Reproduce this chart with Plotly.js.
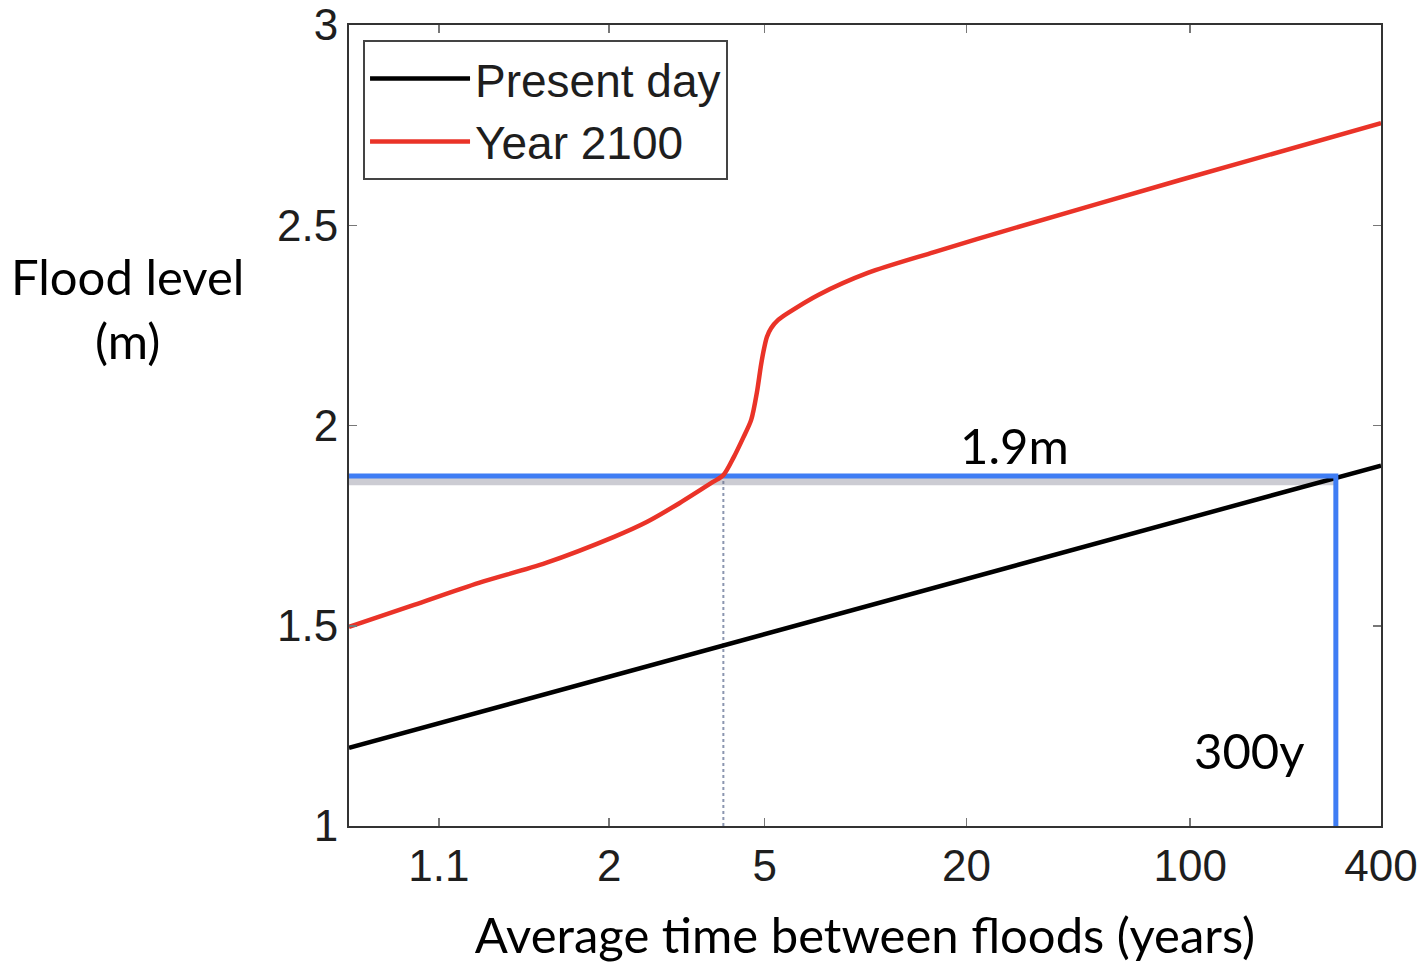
<!DOCTYPE html>
<html>
<head>
<meta charset="utf-8">
<script src="https://cdn.plot.ly/plotly-3.0.1.min.js"></script>
<style>html,body{margin:0;padding:0;background:#fff;}#chart{width:1424px;height:965px;}</style>
</head>
<body>
<div id="chart"></div>
<script>
// ---- data (return period in years -> flood level in m) ----
const seriesNames = ["Present day", "Year 2100"];
const presentT = [1.01, 2, 10, 100, 400];
const presentLevel = [1.195, 1.373, 1.549, 1.770, 1.900];
const futureT = [1.01, 1.06, 1.2, 1.5, 2.05, 2.44, 2.94, 3.6, 3.84, 4.1, 4.35, 4.58, 4.755, 4.88, 4.98, 5.07, 5.21, 5.45, 5.83, 7.13, 10, 15.9, 25.5, 93, 400];
const futureLevel = [1.497, 1.552, 1.607, 1.657, 1.722, 1.759, 1.806, 1.859, 1.876, 1.921, 1.969, 2.014, 2.084, 2.151, 2.193, 2.221, 2.243, 2.263, 2.281, 2.326, 2.381, 2.433, 2.483, 2.613, 2.755];
const xTickT = [1.1, 2, 5, 20, 100, 400];
const xTickText = ["1.1", "2", "5", "20", "100", "400"];
const yTickVals = [1, 1.5, 2, 2.5, 3];
const yTickText = ["1", "1.5", "2", "2.5", "3"];
const xRangeT = [1.01, 400];
const yRange = [1, 3];
const floodLevel = 1.874;        // m, highlighted level
const presentTAtLevel = 288;     // years, present-day return period of that level
const futureTAtLevel = 3.84;     // years, year-2100 return period of that level
const levelLabel = "1.9m";
const periodLabel = "300y";

// Gumbel reduced variate: the x scale of the original plot
function gumbel(T) { return -Math.log(-Math.log(1 - 1 / T)); }

const xr = xRangeT.map(gumbel);
const traces = [
  { // dotted guide at year-2100 crossing
    x: [gumbel(futureTAtLevel), gumbel(futureTAtLevel)], y: [yRange[0], floodLevel],
    mode: "lines", line: {color: "rgba(100,115,150,0.75)", width: 2, dash: "dot"},
    showlegend: false, hoverinfo: "skip"
  },
  { // soft grey shadow under the highlight line
    x: [xr[0], gumbel(presentTAtLevel)], y: [floodLevel - 0.013, floodLevel - 0.013],
    mode: "lines", line: {color: "rgba(110,110,130,0.35)", width: 8},
    showlegend: false, hoverinfo: "skip"
  },
  {
    x: presentT.map(gumbel), y: presentLevel, name: seriesNames[0],
    mode: "lines", line: {color: "#000000", width: 4.5}
  },
  { // blue highlight
    x: [xr[0], gumbel(presentTAtLevel), gumbel(presentTAtLevel)], y: [floodLevel, floodLevel, yRange[0]],
    mode: "lines", line: {color: "#3f7df4", width: 5},
    showlegend: false, hoverinfo: "skip"
  },
  {
    x: futureT.map(gumbel), y: futureLevel, name: seriesNames[1],
    mode: "lines", line: {color: "#ea3328", width: 4.5, shape: "spline", smoothing: 0.8}
  }
];

const tickFont = {family: "Liberation Sans, Arial, sans-serif", size: 44, color: "#1e1e1e"};
const textFont = {family: "Lato, Open Sans, sans-serif", size: 49, color: "#000"};

const layout = {
  width: 1424, height: 965,
  margin: {l: 349, r: 43, t: 25, b: 139},
  paper_bgcolor: "#ffffff", plot_bgcolor: "#ffffff",
  showlegend: true,
  legend: {
    x: 0.0136, y: 0.981, xanchor: "left", yanchor: "top",
    bgcolor: "#ffffff", bordercolor: "#444", borderwidth: 2,
    font: {family: "Liberation Sans, Arial, sans-serif", size: 46, color: "#1e1e1e"},
    itemwidth: 100, tracegroupgap: 0
  },
  xaxis: {
    range: xr, tickvals: xTickT.map(gumbel), ticktext: xTickText,
    ticks: "inside", ticklen: 8, tickwidth: 1.5, tickcolor: "#777",
    showline: true, linecolor: "#333", linewidth: 2, mirror: "ticks",
    showgrid: false, zeroline: false, tickfont: tickFont,
    title: {text: "Average time between floods (years)", font: textFont, standoff: 30}
  },
  yaxis: {
    range: yRange, tickvals: yTickVals, ticktext: yTickText,
    ticks: "inside", ticklen: 8, tickwidth: 1.5, tickcolor: "#777",
    showline: true, linecolor: "#333", linewidth: 2, mirror: "ticks",
    showgrid: false, zeroline: false, tickfont: tickFont
  },
  annotations: [
    {text: "Flood level<br>(m)", xref: "paper", yref: "paper", x: -0.2151, y: 0.6467,
     xanchor: "center", yanchor: "middle", showarrow: false, font: textFont, align: "center"},
    {text: levelLabel, xref: "paper", yref: "y", x: 0.6453, y: floodLevel, yshift: 31,
     xanchor: "center", yanchor: "middle", showarrow: false, font: textFont},
    {text: periodLabel, xref: "paper", yref: "paper", x: 0.8721, y: 0.0949,
     xanchor: "center", yanchor: "middle", showarrow: false, font: textFont}
  ]
};

Plotly.newPlot("chart", traces, layout, {displayModeBar: false, staticPlot: true});
</script>
</body>
</html>
